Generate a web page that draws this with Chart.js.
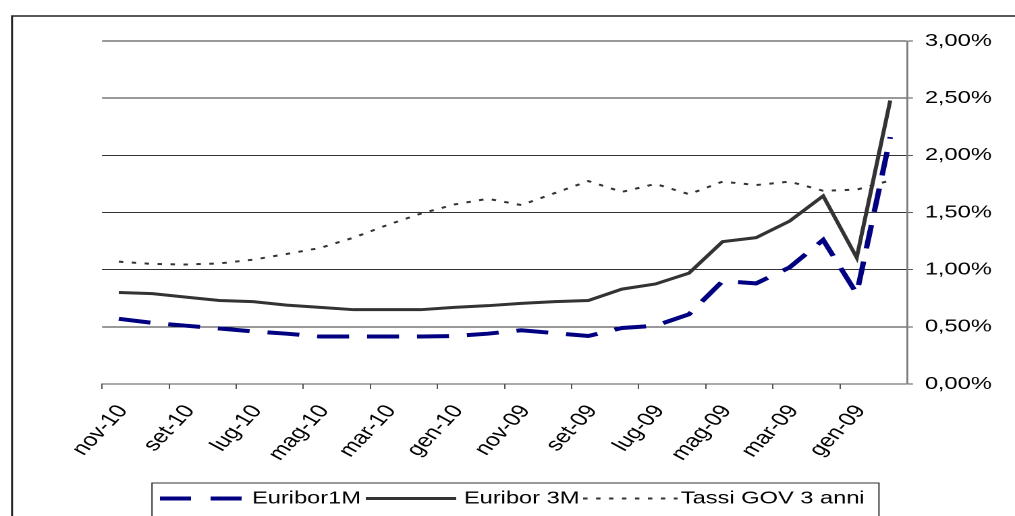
<!DOCTYPE html>
<html>
<head>
<meta charset="utf-8">
<script src="https://cdn.jsdelivr.net/npm/chart.js@4.4.1/dist/chart.umd.min.js"></script>
<style>
  html, body { margin: 0; padding: 0; background: #fff; overflow: hidden; }
  #c { display: block; width: 1015px !important; height: 516px !important; }
</style>
</head>
<body>
<canvas id="c" width="752" height="516" style="width:1015px;height:516px"></canvas>
<script>
// mesi, dal più recente al più vecchio
const mesi = ['nov-10','ott-10','set-10','ago-10','lug-10','giu-10','mag-10','apr-10','mar-10','feb-10','gen-10','dic-09',
              'nov-09','ott-09','set-09','ago-09','lug-09','giu-09','mag-09','apr-09','mar-09','feb-09','gen-09','dic-08']

const euribor1M = [0.57,0.535,0.51,0.485,0.46,0.44,0.415,0.415,0.415,0.415,0.42,0.44,
                   0.47,0.445,0.42,0.49,0.51,0.61,0.90,0.88,1.02,1.26,0.79,2.16]
const euribor3M = [0.80,0.79,0.76,0.73,0.72,0.69,0.67,0.65,0.65,0.65,0.67,0.685,
                   0.705,0.72,0.73,0.83,0.875,0.97,1.245,1.28,1.425,1.645,1.105,2.48]
const tassiGov3 = [1.07,1.05,1.045,1.055,1.087,1.137,1.19,1.28,1.39,1.49,1.57,1.62,
                   1.565,1.67,1.775,1.68,1.75,1.66,1.77,1.74,1.77,1.69,1.70,1.78]

const yTicks = [0, 0.5, 1, 1.5, 2, 2.5, 3]

const font = "'Liberation Sans', Arial, sans-serif"

// the original picture is stretched sideways, so the canvas is drawn narrower and widened by css
const frameAndLegend = {
    id: 'frameAndLegend',
    afterDraw(chart){
        const ctx = chart.ctx
        ctx.save()
        // cornice esterna (solo lato sinistro e alto visibili)
        ctx.strokeStyle = '#222'
        ctx.lineWidth = 1.5
        ctx.beginPath()
        ctx.moveTo(8.9, 520)
        ctx.lineTo(8.9, 16)
        ctx.lineTo(760, 16)
        ctx.stroke()

        // legenda
        ctx.lineWidth = 1
        ctx.strokeStyle = '#333'
        ctx.strokeRect(112.6, 483, 538.6, 40)

        const y = 498.5
        ctx.lineCap = 'butt'

        ctx.strokeStyle = '#000080'
        ctx.lineWidth = 4
        ctx.setLineDash([23, 14.5])
        ctx.beginPath(); ctx.moveTo(118.5, y); ctx.lineTo(179, y); ctx.stroke()

        ctx.strokeStyle = '#333'
        ctx.lineWidth = 3
        ctx.setLineDash([])
        ctx.beginPath(); ctx.moveTo(271, y); ctx.lineTo(338, y); ctx.stroke()

        ctx.lineWidth = 2
        ctx.setLineDash([3.3, 6.3])
        ctx.beginPath(); ctx.moveTo(432, y); ctx.lineTo(502, y); ctx.stroke()
        ctx.setLineDash([])

        ctx.fillStyle = '#000'
        ctx.font = '17.5px ' + font
        ctx.textBaseline = 'middle'
        ctx.textAlign = 'left'
        ctx.fillText('Euribor1M', 186.7, y)
        ctx.fillText('Euribor 3M', 343.7, y)
        ctx.fillText('Tassi GOV 3 anni', 504.4, y)
        ctx.restore()
    }
}

new Chart(document.getElementById('c'), {
    type: 'line',
    data: {
        labels: mesi,
        datasets: [
            {
                label: 'Euribor1M',
                data: euribor1M,
                borderColor: '#000080',
                borderWidth: 4,
                borderDash: [23.7, 13.3],
                pointRadius: 0,
                tension: 0,
                fill: false
            },
            {
                label: 'Euribor 3M',
                data: euribor3M,
                borderColor: '#333333',
                borderWidth: 3,
                pointRadius: 0,
                tension: 0,
                fill: false
            },
            {
                label: 'Tassi GOV 3 anni',
                data: tassiGov3,
                borderColor: '#333333',
                borderWidth: 2,
                borderDash: [3.3, 6.3],
                pointRadius: 0,
                tension: 0,
                fill: false
            }
        ]
    },
    options: {
        responsive: false,
        devicePixelRatio: 2,
        animation: false,
        layout: { padding: { left: 75.6, top: 41, right: 0, bottom: 0 } },
        plugins: {
            legend: { display: false },
            tooltip: { enabled: false }
        },
        scales: {
            x: {
                offset: true,
                grid: {
                    offset: true,
                    drawOnChartArea: false,
                    drawTicks: true,
                    tickLength: 5,
                    color: c => (c.index % 2 === 0 ? '#555' : 'rgba(0,0,0,0)'),
                    lineWidth: 1
                },
                border: { display: true, color: '#555', width: 1 },
                ticks: {
                    autoSkip: false,
                    minRotation: 54,
                    maxRotation: 54,
                    padding: 12,
                    labelOffset: 3,
                    color: '#000',
                    font: { family: font, size: 18.5 },
                    callback: function(v, i){ return i % 2 === 0 ? mesi[i] : '' }
                },
                afterFit: s => { s.height = 132 }
            },
            y: {
                position: 'right',
                min: 0,
                max: 3,
                afterBuildTicks: s => { s.ticks = yTicks.map(v => ({ value: v })) },
                grid: {
                    color: '#333',
                    lineWidth: 1,
                    drawTicks: true,
                    tickLength: 4.4,
                    tickColor: '#555'
                },
                border: { display: true, color: '#808080', width: 1.5 },
                ticks: {
                    padding: 8.8,
                    color: '#000',
                    font: { family: font, size: 17.5 },
                    callback: v => v.toFixed(2).replace('.', ',') + '%'
                },
                afterFit: s => { s.width = 80 }
            }
        }
    },
    plugins: [frameAndLegend]
})
</script>
</body>
</html>
